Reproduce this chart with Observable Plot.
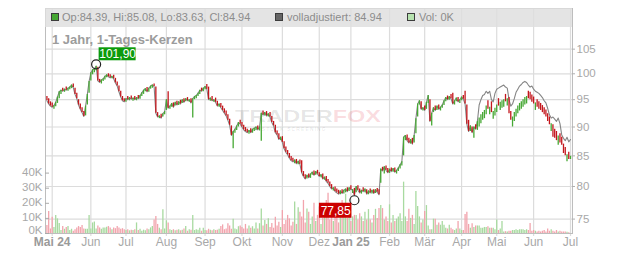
<!DOCTYPE html>
<html>
<head>
<meta charset="utf-8">
<script src="https://cdn.jsdelivr.net/npm/d3@7"></script>
<script src="https://cdn.jsdelivr.net/npm/@observablehq/plot@0.6"></script>
<style>
  body { margin: 0; background: #fff; font-family: "Liberation Sans", Arial, sans-serif; }
  #chart { position: relative; width: 632px; height: 253px; overflow: hidden; }
  #chart > svg, #chart > .layer { position: absolute; left: 0; top: 0; }
  .band { position: absolute; left: 45px; top: 8px; width: 527px; height: 19px; background: rgba(222,222,222,0.82); }
  .band span { position: absolute; top: 0; line-height: 19px; font-size: 11px; color: #8c8c8c; white-space: nowrap; }
  .band i { position: absolute; top: 5px; width: 6px; height: 6px; border: 1px solid #3c3c3c; }
  .title { position: absolute; left: 52px; top: 32px; font-size: 13px; font-weight: bold; color: #9c9c9c; white-space: nowrap; }
  .mark { position: absolute; left: 235px; top: 108px; font-size: 17px; line-height: 18px; font-weight: bold;
          white-space: nowrap; transform: scaleX(1.38); transform-origin: 0 0; }
  .mark .a { color: rgba(0,0,0,0.10); }
  .mark .b { color: rgba(225,40,60,0.16); }
  .mark-sub { position: absolute; left: 246px; top: 127px; font-size: 5px; line-height: 5px; font-weight: bold;
              letter-spacing: 1.1px; color: rgba(0,0,0,0.09); white-space: nowrap; }
</style>
</head>
<body>
<div id="chart"></div>
<script>
// Trading calendar (Xetra) for the daily candles
const startDate = "2024-04-26";
const endDate = "2025-07-01";
const holidays = ["2024-05-01", "2024-12-24", "2024-12-25", "2024-12-26", "2024-12-31",
                  "2025-01-01", "2025-04-18", "2025-04-21", "2025-05-01"];
const monthNames = ["Jan", "Feb", "Mär", "Apr", "Mai", "Jun", "Jul", "Aug", "Sep", "Okt", "Nov", "Dez"];

// Axis ticks
const priceTicks = [75, 80, 85, 90, 95, 100, 105];
const volumeTicks = [0, 10, 20, 30, 40];

// Daily candles: open / close (EUR), volume (thousand shares)
const open = [
  95.6, 95.2, 94.6, 94.4, 93.2, 93.7, 94.3, 95.2, 96.0, 97.2,
  96.4, 97.4, 96.6, 96.9, 97.1, 98.0, 97.2, 96.2, 95.0, 94.2,
  93.5, 92.8, 92.0, 94.0, 96.2, 98.6, 99.8, 100.2, 100.6, 101.3,
  98.9, 98.0, 98.5, 98.8, 99.2, 100.0, 99.8, 99.0, 99.7, 99.1,
  98.4, 97.6, 96.6, 95.6, 95.2, 94.5, 95.6, 94.8, 95.7, 94.7,
  95.6, 94.8, 95.8, 95.1, 95.6, 96.0, 96.5, 97.3, 96.4, 97.0,
  97.2, 98.0, 97.4, 92.6, 91.5, 92.3, 91.8, 92.2, 93.0, 96.5,
  93.2, 93.6, 94.4, 93.8, 94.7, 93.9, 94.9, 94.3, 95.2, 94.6,
  95.4, 94.5, 95.2, 91.6, 95.0, 95.2, 95.6, 96.0, 97.2, 96.5,
  96.9, 97.9, 97.4, 94.7, 95.6, 94.5, 95.3, 94.7, 93.6, 94.3,
  93.8, 93.3, 92.9, 92.2, 91.4, 90.2, 86.2, 88.9, 89.4, 90.0,
  91.2, 90.8, 90.3, 89.9, 89.6, 88.7, 89.7, 88.9, 89.2, 89.4,
  90.2, 89.3, 87.5, 92.9, 92.0, 92.8, 91.8, 92.6, 91.9, 91.0,
  90.3, 89.3, 88.8, 87.6, 88.3, 87.4, 86.5, 85.9, 85.4, 84.9,
  84.6, 83.7, 84.4, 83.5, 84.3, 84.2, 82.4, 81.9, 81.2, 82.0,
  81.3, 81.8, 82.5, 81.8, 82.6, 82.2, 81.4, 82.0, 81.0, 81.6,
  81.1, 80.7, 80.3, 79.3, 79.9, 79.6, 79.4, 78.7, 79.5, 78.8,
  79.0, 79.8, 79.2, 80.1, 78.9, 79.7, 79.0, 80.1, 79.6, 78.8,
  79.8, 79.0, 79.5, 78.7, 79.6, 78.8, 79.5, 78.9, 79.7, 79.5,
  80.5, 83.1, 82.0, 83.3, 82.9, 82.1, 83.0, 82.3, 83.0, 82.0,
  82.4, 82.8, 83.3, 85.0, 87.6, 88.6, 88.0, 87.0, 88.0, 87.2,
  88.8, 91.8, 94.0, 94.6, 92.9, 93.8, 93.2, 94.3, 95.0, 90.2,
  92.6, 93.8, 93.0, 94.0, 92.9, 93.4, 93.9, 94.6, 95.7, 94.9,
  96.0, 96.2, 94.0, 94.6, 95.4, 94.3, 94.8, 95.8, 96.6, 94.0,
  91.2, 89.2, 90.0, 88.0, 90.4, 89.4, 90.0, 90.6, 91.2, 91.5,
  92.2, 94.8, 92.2, 94.6, 91.4, 92.0, 92.6, 95.2, 93.0, 93.4,
  93.6, 96.0, 93.8, 95.4, 92.8, 90.0, 91.0, 91.8, 92.4, 92.9,
  93.2, 93.6, 94.0, 94.2, 96.6, 96.4, 95.9, 95.5, 93.0, 95.0,
  94.6, 94.3, 93.9, 93.5, 93.1, 92.4, 91.8, 89.2, 90.4, 89.6,
  89.2, 86.8, 88.8, 88.2, 87.0, 86.4, 84.0, 85.6, 84.39
];
const close = [
  94.8, 94.2, 93.8, 93.6, 93.9, 94.5, 95.5, 96.5, 96.8, 96.6,
  97.0, 96.8, 97.2, 97.4, 97.8, 97.3, 96.0, 95.2, 94.0, 93.2,
  92.6, 91.9, 93.8, 96.0, 98.5, 100.2, 100.8, 101.0, 101.5, 98.6,
  98.3, 98.8, 99.0, 99.5, 99.8, 99.4, 99.2, 99.5, 99.0, 98.2,
  97.6, 96.5, 95.5, 94.8, 94.6, 95.2, 95.0, 95.4, 95.1, 95.3,
  95.0, 95.4, 95.2, 95.8, 96.3, 96.8, 97.1, 96.5, 97.2, 97.6,
  97.8, 97.5, 92.5, 91.8, 92.0, 91.6, 92.4, 92.8, 95.0, 93.4,
  93.8, 94.3, 93.6, 94.5, 94.0, 94.6, 94.2, 95.0, 94.5, 95.2,
  94.8, 95.0, 94.4, 95.2, 95.6, 95.8, 96.2, 96.8, 96.6, 97.2,
  97.5, 97.0, 95.0, 95.3, 94.8, 95.0, 94.5, 93.8, 94.2, 93.5,
  93.0, 92.5, 92.0, 91.2, 90.3, 88.5, 89.2, 89.6, 90.2, 90.8,
  90.5, 90.0, 89.5, 89.2, 89.0, 89.4, 89.0, 89.6, 89.8, 90.0,
  89.5, 90.0, 92.5, 92.2, 92.6, 92.0, 92.4, 91.8, 90.8, 90.2,
  89.0, 88.6, 87.8, 88.2, 87.3, 86.2, 85.6, 85.2, 84.6, 84.2,
  84.0, 84.3, 83.7, 84.1, 83.6, 82.2, 81.6, 81.2, 81.8, 81.4,
  82.0, 82.3, 81.8, 82.4, 82.0, 81.6, 81.9, 81.2, 81.5, 80.8,
  80.5, 80.0, 79.6, 79.8, 79.2, 79.0, 78.8, 79.3, 78.9, 79.4,
  79.6, 79.2, 79.8, 79.5, 79.5, 78.6, 80.0, 79.4, 79.0, 79.4,
  79.2, 79.6, 78.8, 79.3, 79.0, 79.4, 78.9, 79.5, 79.1, 78.7,
  82.8, 82.5, 83.2, 82.6, 82.2, 82.8, 82.4, 82.9, 82.3, 82.6,
  83.0, 83.5, 84.0, 88.2, 88.5, 87.6, 87.2, 87.8, 87.0, 88.5,
  91.5, 94.2, 94.8, 93.2, 93.5, 93.0, 94.5, 95.8, 91.0, 92.5,
  93.5, 93.0, 93.8, 93.2, 93.6, 94.0, 94.8, 95.4, 95.0, 95.6,
  95.2, 94.2, 94.8, 95.3, 94.6, 95.0, 95.5, 95.1, 94.2, 90.5,
  89.2, 90.2, 89.0, 90.0, 89.6, 91.0, 91.6, 92.2, 92.6, 93.0,
  93.8, 93.2, 93.6, 92.6, 92.8, 93.4, 94.0, 93.8, 94.5, 94.8,
  95.0, 94.6, 95.2, 92.4, 91.2, 91.8, 92.6, 93.2, 93.8, 94.3,
  94.6, 95.0, 95.4, 95.6, 95.2, 95.0, 94.5, 94.2, 94.4, 93.6,
  93.2, 93.0, 92.6, 92.2, 91.8, 91.0, 90.4, 90.6, 88.2, 88.0,
  87.6, 88.4, 87.2, 86.8, 85.4, 85.0, 85.2, 84.4, 84.94
];
const volume = [
  5.3, 14.6, 3.0, 10.8, 4.0, 12.0, 9.7, 6.6, 2.0, 4.6,
  2.8, 4.0, 4.6, 2.0, 2.8, 1.5, 2.5, 3.7, 4.6, 4.0,
  5.3, 3.0, 2.8, 2.8, 12.0, 3.0, 7.0, 7.6, 3.0, 5.0,
  3.7, 2.8, 3.7, 3.7, 4.2, 4.6, 3.7, 2.5, 3.7, 3.2,
  4.6, 3.7, 2.8, 3.2, 2.5, 2.0, 2.5, 1.8, 2.2, 2.0,
  2.5, 7.0, 2.0, 2.8, 1.5, 2.2, 1.8, 3.0, 2.5, 3.7,
  4.6, 9.0, 11.2, 6.0, 3.5, 2.5, 15.7, 3.0, 8.4, 7.0,
  2.5, 2.0, 2.5, 1.8, 2.2, 2.5, 1.8, 2.2, 3.0, 4.6,
  1.5, 2.5, 2.2, 12.0, 2.0, 2.5, 2.2, 3.5, 1.5, 3.5,
  2.0, 1.8, 2.8, 2.2, 1.8, 2.5, 2.0, 2.2, 2.8, 4.6,
  5.7, 2.5, 3.0, 6.5, 5.0, 2.8, 9.5, 3.0, 2.5, 4.5,
  5.0, 4.0, 3.0, 6.0, 3.0, 5.0, 3.5, 4.5, 3.0, 7.0,
  3.0, 6.5, 16.3, 5.0, 8.6, 6.0, 9.7, 4.0, 6.6, 3.5,
  10.8, 5.0, 7.5, 4.0, 15.2, 6.0, 8.6, 12.0, 9.7, 5.0,
  7.5, 20.8, 6.0, 17.0, 14.0, 11.0, 21.9, 7.0, 16.3, 14.0,
  6.0, 11.0, 20.0, 8.0, 12.0, 17.6, 6.0, 10.0, 14.0, 21.9,
  26.7, 9.0, 17.0, 8.0, 11.0, 19.0, 7.0, 12.0, 21.9, 19.5,
  26.0, 10.0, 14.0, 8.0, 11.0, 12.0, 12.0, 9.0, 13.0, 11.0,
  8.0, 14.0, 9.0, 15.8, 9.0, 7.0, 12.0, 16.0, 10.0, 16.5,
  18.5, 16.5, 9.0, 11.0, 8.0, 19.0, 7.0, 12.0, 8.0, 9.5,
  11.0, 13.0, 8.0, 34.0, 11.0, 8.0, 16.0, 10.0, 12.0, 6.0,
  27.8, 17.9, 11.0, 7.0, 9.0, 14.6, 18.5, 5.0, 2.5, 2.5,
  9.5, 9.5, 5.5, 7.0, 5.5, 8.0, 5.5, 3.5, 3.0, 5.5,
  3.5, 2.5, 2.0, 3.0, 8.0, 3.0, 2.0, 2.0, 12.6, 14.0,
  6.0, 3.5, 6.5, 4.0, 5.0, 5.0, 5.0, 3.5, 3.5, 4.0,
  4.0, 4.5, 3.5, 3.5, 3.5, 2.5, 9.0, 2.0, 3.0, 8.0,
  1.0, 1.2, 1.0, 1.5, 1.5, 2.0, 2.0, 2.5, 2.0, 2.5,
  2.5, 2.5, 2.0, 2.5, 2.0, 6.6, 1.5, 2.0, 1.5, 1.0,
  1.5, 1.0, 1.5, 2.0, 1.0, 3.0, 1.5, 2.5, 1.5, 1.0,
  2.0, 1.0, 1.5, 1.0, 1.0, 1.0, 0.8, 0.5, 0
];

// Fully adjusted close ("volladjustiert") where it departs from the raw closes
const adjustedFrom = "2025-04-15";
const adjustedTail = [
  94.0, 95.0, 95.8, 96.0, 96.6, 96.2, 96.6, 95.0, 94.6, 96.2,
  97.0, 97.2, 97.4, 97.6, 97.8, 97.4, 97.2, 95.0, 93.8, 94.2,
  95.2, 96.4, 97.0, 97.6, 97.9, 98.3, 98.5, 98.3, 97.8, 97.4,
  97.6, 97.0, 96.6, 96.4, 96.2, 95.8, 95.4, 94.8, 94.4, 93.4,
  92.2, 91.6, 91.8, 91.4, 91.0, 91.6, 90.6, 88.6, 88.0, 87.6,
  88.2, 87.4, 87.8
];

// 52-week extremes
const yearHigh = {date: "2024-06-06", value: 101.90};
const yearLow = {date: "2025-01-06", value: 77.85};

// ---------------------------------------------------------------------------
const fmt = d3.utcFormat("%Y-%m-%d");
const holidaySet = new Set(holidays);
const dates = d3.utcDays(new Date(startDate), d3.utcDay.offset(new Date(endDate), 1))
  .filter(d => d.getUTCDay() % 6 !== 0 && !holidaySet.has(fmt(d)));

const days = dates.map((date, i) => ({
  i, date, open: open[i], close: close[i], volume: volume[i], up: close[i] >= open[i]
}));

const monthTicks = [];
dates.forEach((d, i) => {
  if (i > 0 && d.getUTCMonth() !== dates[i - 1].getUTCMonth()) {
    const first = monthTicks.length === 0 || d.getUTCMonth() === 0;
    const m = monthNames[d.getUTCMonth()];
    monthTicks.push({i, label: first ? `${m} ${String(d.getUTCFullYear()).slice(2)}` : m, bold: first});
  }
});

const tailStart = dates.findIndex(d => fmt(d) === adjustedFrom);
const adjustedSeries = days.map(d => ({
  i: d.i, value: d.i < tailStart ? d.close : adjustedTail[d.i - tailStart]
}));

const idxOf = s => dates.findIndex(d => fmt(d) === s);
const high = [{i: idxOf(yearHigh.date), value: yearHigh.value}];
const low = [{i: idxOf(yearLow.date), value: yearLow.value}];
const deNum = v => v.toFixed(2).replace(".", ",");

const font = "'Liberation Sans', Arial, sans-serif";
const frame = {
  width: 632, height: 253,
  marginTop: 8, marginRight: 60, marginBottom: 20, marginLeft: 45,
  x: {domain: [-0.81, 299.13], axis: null},
  style: {background: "transparent", fontFamily: font, overflow: "visible"}
};
const priceY = {type: "log", domain: [72.89, 113.8], axis: null};

// Grid, frame, price axis and month labels
const base = Plot.plot({
  ...frame,
  style: {background: "#fff", fontFamily: font},
  y: {...priceY},
  marks: [
    Plot.ruleY(priceTicks, {stroke: "#dcdcdc", strokeWidth: 1.2}),
    Plot.ruleX(monthTicks, {x: "i", stroke: "#dcdcdc", strokeWidth: 1.2, insetBottom: -3}),
    Plot.frame({stroke: "#bdbdbd"}),
    // short outward ticks and labels on the right price axis
    Plot.tickY(priceTicks, {y: d => d, stroke: "#b0b0b0", insetLeft: 527, insetRight: -3}),
    Plot.text(priceTicks, {y: d => d, text: d => String(d), frameAnchor: "right", dx: 4,
      textAnchor: "start", fill: "#a8a8a8", fontSize: 11.5}),
    Plot.text(monthTicks.filter(d => !d.bold), {x: "i", text: "label", frameAnchor: "bottom",
      dy: 12, fill: "#a8a8a8", fontSize: 12}),
    Plot.text(monthTicks.filter(d => d.bold), {x: "i", text: "label", frameAnchor: "bottom",
      dy: 12, fill: "#9a9a9a", fontSize: 12, fontWeight: "bold"})
  ]
});

// Volume bars with their own axis on the left
const volumeLabel = {text: d => d + "K", frameAnchor: "left", dx: -3, textAnchor: "end",
  fill: "#a8a8a8", fontSize: 11.5};
const vol = Plot.plot({
  ...frame,
  y: {domain: [0, 149], axis: null},
  marks: [
    Plot.ruleX(days.filter(d => d.up), {x: "i", y1: 0, y2: "volume", stroke: "#a8daa0", strokeWidth: 1.3}),
    Plot.ruleX(days.filter(d => !d.up), {x: "i", y1: 0, y2: "volume", stroke: "#f2a4ad", strokeWidth: 1.3}),
    Plot.tickY(volumeTicks, {y: d => d, stroke: "#aaa", insetRight: 523}),
    Plot.text(volumeTicks.filter(d => d > 0), {...volumeLabel, y: d => d, dy: -1}),
    // the baseline label sits a little higher so it clears the month labels
    Plot.text(volumeTicks.filter(d => d === 0), {...volumeLabel, y: d => d, dy: -3.5})
  ]
});

// Candles, adjusted close line and extreme markers
const price = Plot.plot({
  ...frame,
  y: {...priceY},
  marks: [
    Plot.line(adjustedSeries, {x: "i", y: "value", stroke: "#858585", strokeWidth: 1.1}),
    Plot.ruleX(days.filter(d => d.up), {x: "i", y1: "open", y2: "close", stroke: "#46a834", strokeWidth: 1.3}),
    Plot.ruleX(days.filter(d => !d.up), {x: "i", y1: "open", y2: "close", stroke: "#c3161c", strokeWidth: 1.3}),
    Plot.dot([...high, ...low], {x: "i", y: "value", r: 4.5, stroke: "#222", strokeWidth: 1.2, fill: "none"}),
    Plot.rect(high, {x1: "i", x2: "i", y1: "value", y2: "value",
      insetLeft: 3, insetRight: -40, insetTop: -16.5, insetBottom: 3.5, fill: "#0b9a0b"}),
    Plot.text(high, {x: "i", y: "value", text: d => deNum(d.value), dx: 21.5, dy: -10,
      fill: "#fff", fontSize: 12}),
    Plot.rect(low, {x1: "i", x2: "i", y1: "value", y2: "value",
      insetLeft: -35, insetRight: 2.5, insetTop: 3, insetBottom: -18, fill: "#cc0000"}),
    Plot.text(low, {x: "i", y: "value", text: d => deNum(d.value), dx: -18.75, dy: 10.5,
      fill: "#fff", fontSize: 12})
  ]
});

const chart = document.getElementById("chart");
chart.append(base);

const mark = document.createElement("div");
mark.className = "layer";
mark.innerHTML = '<div class="mark"><span class="a">TRADER</span><span class="b">FOX</span></div>' +
  '<div class="mark-sub">THE STOCK SCREENING</div>';
chart.append(mark);

chart.append(vol);
chart.append(price);

const band = document.createElement("div");
band.className = "band";
band.innerHTML =
  '<i style="left:6px;background:#46a834"></i><span style="left:17px">Op:84.39, Hi:85.08, Lo:83.63, Cl:84.94</span>' +
  '<i style="left:230px;background:#666"></i><span style="left:242px">volladjustiert: 84.94</span>' +
  '<i style="left:362px;background:#b6e2ae"></i><span style="left:374px">Vol: 0K</span>';
chart.append(band);

const title = document.createElement("div");
title.className = "title";
title.textContent = "1 Jahr, 1-Tages-Kerzen";
chart.append(title);
</script>
</body>
</html>
